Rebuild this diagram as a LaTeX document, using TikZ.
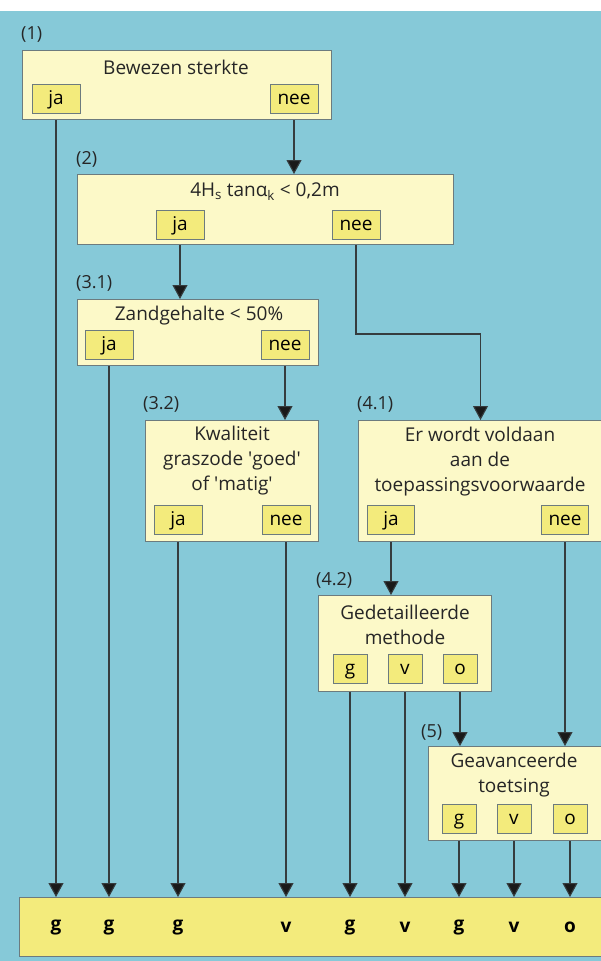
\documentclass[tikz,border=0pt]{standalone}
\usepackage{fontspec}
\setmainfont{Open Sans}
\usepackage{xcolor}
\usetikzlibrary{positioning, arrows.meta}
\definecolor{skyblue}{HTML}{86C9D8}
\definecolor{paleyellow}{HTML}{FCF9C8}
\definecolor{answeryellow}{HTML}{F3EB7C}
\definecolor{edgegray}{HTML}{6C7B7E}
\definecolor{linegray}{HTML}{353C3E}

\begin{document}
\begin{tikzpicture}[x=1pt, y=-1pt,
    question/.style={draw=edgegray, fill=paleyellow, line width=1pt, anchor=north west, inner sep=0pt},
    answer/.style={draw=edgegray, fill=answeryellow, line width=1pt, minimum height=29pt, inner sep=0pt,
                   font=\fontsize{19}{20}\selectfont, text height=13pt, text depth=3pt},
    qtext/.style={align=center, inner sep=0pt, font=\fontsize{19}{25}\selectfont, text=black!85},
    steplabel/.style={anchor=south west, inner sep=0pt, font=\fontsize{18}{20}\selectfont, text=black!85},
    result/.style={inner sep=0pt, font=\fontsize{19}{20}\selectfont\bfseries},
    arrow/.style={draw=linegray, line width=1.1pt, -{Triangle[width=15pt, length=14pt, fill=black!90]}}]

  % background
  \useasboundingbox (0,0) rectangle (601,961);
  \fill[white] (0,0) rectangle (601,961);
  \fill[skyblue] (0,11) rectangle (601,961);

  % (1)
  \node[question, minimum width=309pt, minimum height=69pt] (q1) at (22,50) {};
  \node[steplabel] (l1) at (21,43) {(1)};
  \node[qtext] (t1) at (176,67) {Bewezen sterkte};
  \node[answer, minimum width=48pt] (q1ja) at (56,99) {ja};
  \node[answer, minimum width=48pt] (q1nee) at (294,99) {nee};

  % (2)
  \node[question, minimum width=376pt, minimum height=70pt] (q2) at (77,174) {};
  \node[steplabel] (l2) at (76,168) {(2)};
  \node[qtext] (t2) at (265,192) {4H\textsubscript{s} tanα\textsubscript{k} < 0,2m};
  \node[answer, minimum width=48pt] (q2ja) at (180,225) {ja};
  \node[answer, minimum width=48pt] (q2nee) at (356,225) {nee};

  % (3.1)
  \node[question, minimum width=241pt, minimum height=66pt] (q31) at (77,299) {};
  \node[steplabel] (l31) at (76,292) {(3.1)};
  \node[qtext] (t31) at (199,316) {Zandgehalte < 50\%};
  \node[answer, minimum width=48pt] (q31ja) at (109,345) {ja};
  \node[answer, minimum width=48pt] (q31nee) at (285,345) {nee};

  % (3.2)
  \node[question, minimum width=173pt, minimum height=121pt] (q32) at (145,420) {};
  \node[steplabel] (l32) at (143,413) {(3.2)};
  \node[qtext] (t32) at (232,461) {Kwaliteit\\graszode \textquotesingle goed\textquotesingle\\of \textquotesingle matig\textquotesingle};
  \node[answer, minimum width=48pt] (q32ja) at (178,520) {ja};
  \node[answer, minimum width=48pt] (q32nee) at (286,520) {nee};

  % (4.1)
  \node[question, minimum width=244pt, minimum height=121pt] (q41) at (358,420) {};
  \node[steplabel] (l41) at (357,413) {(4.1)};
  \node[qtext] (t41) at (480,462) {Er wordt voldaan\\aan de\\toepassingsvoorwaarde};
  \node[answer, minimum width=47pt] (q41ja) at (391,520) {ja};
  \node[answer, minimum width=47pt] (q41nee) at (565,520) {nee};

  % (4.2)
  \node[question, minimum width=173pt, minimum height=96pt] (q42) at (318,595) {};
  \node[steplabel] (l42) at (316,589) {(4.2)};
  \node[qtext] (t42) at (405,625) {Gedetailleerde\\methode};
  \node[answer, minimum width=34pt] (q42g) at (350,669) {g};
  \node[answer, minimum width=34pt] (q42v) at (405,669) {v};
  \node[answer, minimum width=34pt] (q42o) at (460,669) {o};

  % (5)
  \node[question, minimum width=175pt, minimum height=94pt] (q5) at (428,746) {};
  \node[steplabel] (l5) at (421,741) {(5)};
  \node[qtext] (t5) at (514,775) {Geavanceerde\\toetsing};
  \node[answer, minimum width=34pt] (q5g) at (459,819) {g};
  \node[answer, minimum width=34pt] (q5v) at (514,819) {v};
  \node[answer, minimum width=34pt] (q5o) at (570,819) {o};

  % outcome bar
  \node[draw=edgegray, fill=answeryellow, line width=1pt, anchor=north west, inner sep=0pt,
        minimum width=590pt, minimum height=59pt] (out) at (19,897) {};
  \node[result] (r1) at (q1ja.center |- out.center) {g};
  \node[result] (r2) at (q31ja.center |- out.center) {g};
  \node[result] (r3) at (q32ja.center |- out.center) {g};
  \node[result] (r4) at (q32nee.center |- out.center) {v};
  \node[result] (r5) at (q42g.center |- out.center) {g};
  \node[result] (r6) at (q42v.center |- out.center) {v};
  \node[result] (r7) at (q5g.center |- out.center) {g};
  \node[result] (r8) at (q5v.center |- out.center) {v};
  \node[result] (r9) at (q5o.center |- out.center) {o};

  % connectors
  \coordinate (elbow) at (356,334);
  \draw[arrow] (q1nee |- q1.south) -- (q1nee |- q2.north);
  \draw[arrow] (q2ja |- q2.south) -- (q2ja |- q31.north);
  \draw[arrow] (q2nee |- q2.south) -- (elbow) -| (q41.north);
  \draw[arrow] (q31nee |- q31.south) -- (q31nee |- q32.north);
  \draw[arrow] (q41ja |- q41.south) -- (q41ja |- q42.north);
  \draw[arrow] (q41nee |- q41.south) -- (q41nee |- q5.north);
  \draw[arrow] (q42o |- q42.south) -- (q42o |- q5.north);
  \foreach \src/\qbox in {q1ja/q1, q31ja/q31, q32ja/q32, q32nee/q32, q42g/q42, q42v/q42, q5g/q5, q5v/q5, q5o/q5}
    \draw[arrow] (\src |- \qbox.south) -- (\src |- out.north);
\end{tikzpicture}
\end{document}
